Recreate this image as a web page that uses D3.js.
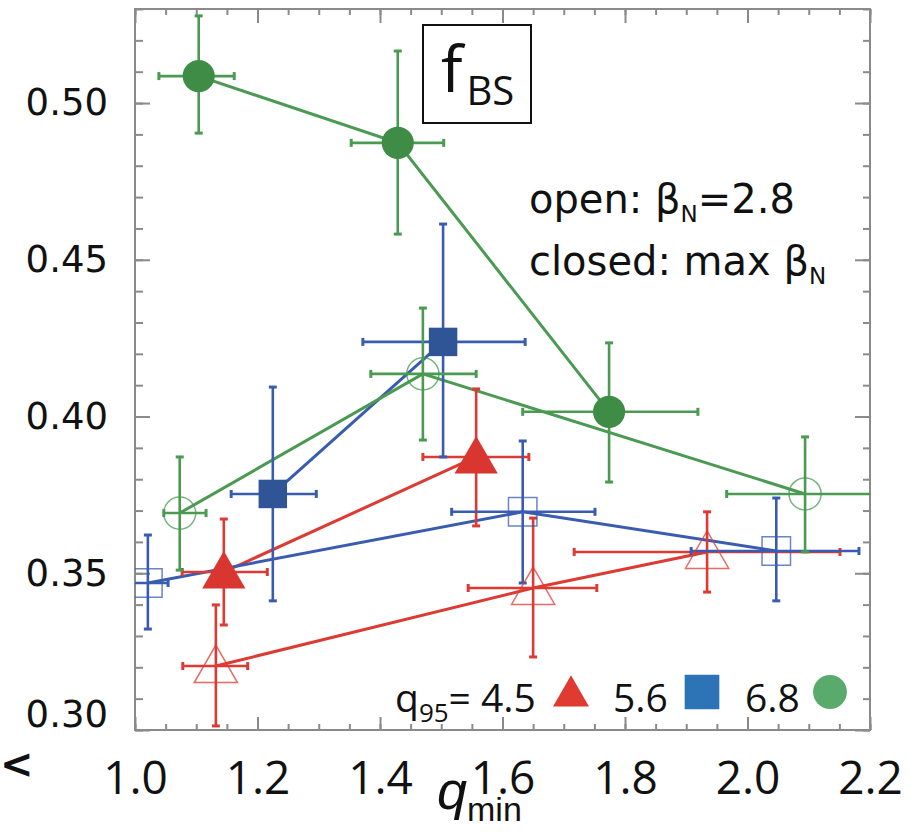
<!DOCTYPE html>
<meta charset="utf-8">
<style>
    body { margin: 0; background: #fff; }
    .frame { fill: none; stroke: #8a8a8a; stroke-width: 2px; }
    .tick line { stroke: #8a8a8a; stroke-width: 2px; }
    .domain { display: none; }
    .ylab text { font: 37px "DejaVu Sans", sans-serif; fill: #111; }
    .xlab text { font: 46px "Liberation Sans Narrow", "Open Sans", sans-serif; fill: #111; }
</style>
<script src="https://d3js.org/d3.v7.min.js"></script>
<div id="chart"></div>
<script>

    // each point: [qmin, fBS, qmin low, qmin high, fBS low, fBS high]
    var redOpen = [
        [1.132, 0.3204, 1.078, 1.184, 0.3013, 0.3399],
        [1.650, 0.3453, 1.544, 1.754, 0.3233, 0.3676],
        [1.934, 0.3568, 1.717, 2.151, 0.3440, 0.3696]
    ];
    var redClosed = [
        [1.145, 0.3504, 1.077, 1.216, 0.3335, 0.3673],
        [1.557, 0.3871, 1.470, 1.643, 0.3651, 0.4088]
    ];
    var blueOpen = [
        [1.021, 0.3469, 0.990, 1.054, 0.3322, 0.3622],
        [1.633, 0.3696, 1.517, 1.751, 0.3469, 0.3922],
        [2.047, 0.3571, 1.908, 2.182, 0.3412, 0.3740]
    ];
    var blueClosed = [
        [1.225, 0.3753, 1.157, 1.296, 0.3412, 0.4094],
        [1.503, 0.4238, 1.372, 1.637, 0.3871, 0.4614]
    ];
    var greenOpen = [
        [1.073, 0.3692, 1.047, 1.116, 0.3510, 0.3871],
        [1.470, 0.4136, 1.385, 1.557, 0.3925, 0.4346],
        [2.094, 0.3753, 1.966, 2.250, 0.3568, 0.3935]
    ];
    var greenClosed = [
        [1.104, 0.5086, 1.039, 1.162, 0.4904, 0.5278],
        [1.429, 0.4873, 1.353, 1.504, 0.4582, 0.5166],
        [1.774, 0.4015, 1.633, 1.919, 0.3791, 0.4235]
    ];

    var xTicks = [1.0, 1.2, 1.4, 1.6, 1.8, 2.0, 2.2];
    var yTicks = [0.30, 0.35, 0.40, 0.45, 0.50];
    var legendLabels = ["4.5", "5.6", "6.8"];

    var margin = {top: 9, right: 46, bottom: 102, left: 135},
        width = 916 - margin.left - margin.right,
        height = 832 - margin.top - margin.bottom;

    var svg = d3.select("#chart")
        .append("svg")
        .attr("width", 916)
        .attr("height", 832)
        .append("g")
        .attr("transform", "translate(" + margin.left + "," + margin.top + ")");

    var x = d3.scaleLinear().domain([1.0, 2.2]).range([0, width]);
    var y = d3.scaleLinear().domain([0.30, 0.53]).range([height, 0]);

    var xMinor = d3.range(1.0, 2.2001, 0.05);
    var yMinor = d3.range(0.30, 0.5301, 0.01);

    // inward ticks on all four sides
    function ticks(axis, scale, vals, size, tr) {
        svg.append("g")
            .attr("transform", tr)
            .call(axis(scale).tickValues(vals).tickSize(-size).tickFormat(""));
    }
    ticks(d3.axisBottom, x, xMinor, 6, "translate(0," + height + ")");
    ticks(d3.axisBottom, x, xTicks, 13, "translate(0," + height + ")");
    ticks(d3.axisTop, x, xMinor, 6, "translate(0,0)");
    ticks(d3.axisTop, x, xTicks, 14, "translate(0,0)");
    ticks(d3.axisLeft, y, yMinor, 8, "translate(0,0)");
    ticks(d3.axisLeft, y, yTicks, 15, "translate(0,0)");
    ticks(d3.axisRight, y, yMinor, 7, "translate(" + width + ",0)");
    ticks(d3.axisRight, y, yTicks, 15, "translate(" + width + ",0)");

    svg.append("g")
        .attr("class", "xlab")
        .attr("transform", "translate(0," + height + ")")
        .call(d3.axisBottom(x).tickValues(xTicks).tickSize(0).tickPadding(31).tickFormat(d3.format(".1f")));

    var yl = svg.append("g")
        .attr("class", "ylab")
        .call(d3.axisLeft(y).tickValues(yTicks).tickSize(0).tickPadding(27).tickFormat(d3.format(".2f")));
    yl.selectAll("text").filter(function(d) { return d === 0.30; }).attr("dy", "-0.1em");

    svg.append("rect")
        .attr("class", "frame")
        .attr("width", width)
        .attr("height", height);

    svg.append("defs").append("clipPath")
        .attr("id", "clip")
        .append("rect")
        .attr("width", width)
        .attr("height", height);

    var plot = svg.append("g").attr("clip-path", "url(#clip)");

    var line = d3.line()
        .x(function(d) { return x(d[0]); })
        .y(function(d) { return y(d[1]); });

    var series = [
        {data: redOpen, color: "#dd3a34", shape: d3.symbolTriangle, open: true},
        {data: redClosed, color: "#dd3a34", shape: d3.symbolTriangle, open: false},
        {data: blueOpen, color: "#3a5cb0", shape: d3.symbolSquare, open: true},
        {data: blueClosed, color: "#3a5cb0", shape: d3.symbolSquare, open: false},
        {data: greenOpen, color: "#4a9a52", shape: d3.symbolCircle, open: true},
        {data: greenClosed, color: "#4a9a52", shape: d3.symbolCircle, open: false}
    ];
    var fills = {"#dd3a34": "#d8362f", "#3a5cb0": "#2f5597", "#4a9a52": "#3e8c45"};
    var sizes = {};
    sizes[d3.symbolTriangle] = 460;
    sizes[d3.symbolSquare] = 1024;
    sizes[d3.symbolCircle] = 810;

    function shiftFor(shape) { return shape === d3.symbolTriangle ? 4 : 0; }

    series.forEach(function(s) {
        plot.append("path")
            .datum(s.data)
            .attr("fill", "none")
            .attr("stroke", s.color)
            .attr("stroke-width", 3)
            .attr("d", line);
    });

    series.forEach(function(s) {
        var g = plot.append("g").attr("stroke", s.color).attr("stroke-width", 2.6);
        s.data.forEach(function(d) {
            g.append("line").attr("x1", x(d[2])).attr("x2", x(d[3])).attr("y1", y(d[1])).attr("y2", y(d[1]));
            g.append("line").attr("x1", x(d[0])).attr("x2", x(d[0])).attr("y1", y(d[4])).attr("y2", y(d[5]));
            [d[2], d[3]].forEach(function(v) {
                g.append("line").attr("x1", x(v)).attr("x2", x(v))
                    .attr("y1", y(d[1]) - 4).attr("y2", y(d[1]) + 4).attr("stroke-width", 3);
            });
            [d[4], d[5]].forEach(function(v) {
                g.append("line").attr("x1", x(d[0]) - 4).attr("x2", x(d[0]) + 4)
                    .attr("y1", y(v)).attr("y2", y(v)).attr("stroke-width", 3);
            });
        });
    });

    series.forEach(function(s) {
        plot.selectAll(null)
            .data(s.data)
            .enter()
            .append("path")
            .attr("transform", function(d) {
                return "translate(" + x(d[0]) + "," + (y(d[1]) + shiftFor(s.shape)) + ")";
            })
            .attr("d", d3.symbol().type(s.shape).size(sizes[s.shape]))
            .attr("fill", s.open ? "none" : fills[s.color])
            .attr("stroke", s.open ? s.color : "none")
            .attr("stroke-opacity", 0.75)
            .attr("stroke-width", 1.5);
    });

    // f_BS label box
    svg.append("rect")
        .attr("x", 288).attr("y", 16)
        .attr("width", 108).attr("height", 98)
        .attr("fill", "#fff").attr("stroke", "#111").attr("stroke-width", 2);
    var fbs = svg.append("text")
        .attr("x", 306).attr("y", 83)
        .style("font-family", "'Liberation Sans Narrow', 'Open Sans', sans-serif")
        .style("fill", "#111");
    fbs.append("tspan").style("font-size", "64px").text("f");
    fbs.append("tspan").attr("dy", 13).attr("dx", 4).style("font-size", "40px").text("BS");

    // open / closed note
    var notes = [["open: ", "=2.8", 204], ["closed: max ", "", 266]];
    notes.forEach(function(n) {
        var t = svg.append("text")
            .attr("x", 394).attr("y", n[2])
            .style("font-family", "'DejaVu Sans', sans-serif")
            .style("font-size", "40px")
            .style("fill", "#111");
        t.append("tspan").text(n[0] + "\u03b2");
        t.append("tspan").attr("dy", 9).style("font-size", "23px").text("N");
        if (n[1]) t.append("tspan").attr("dy", -9).text(n[1]);
    });

    // q95 legend
    var lg = svg.append("text")
        .attr("x", 260).attr("y", 703)
        .style("font-family", "'Open Sans', sans-serif")
        .style("font-size", "39px")
        .style("fill", "#111");
    lg.append("tspan").text("q");
    lg.append("tspan").attr("dy", 10).style("font-size", "26px").text("95");
    lg.append("tspan").attr("dy", -10).text("= " + legendLabels[0]);

    var legendItems = [
        {label: legendLabels[1], tx: 478, mx: 436, shape: d3.symbolTriangle, color: "#e03b33"},
        {label: legendLabels[2], tx: 610, mx: 567, shape: d3.symbolSquare, color: "#2c74b5"},
        {label: "", tx: 0, mx: 695, shape: d3.symbolCircle, color: "#5aab6b"}
    ];
    legendItems.forEach(function(l) {
        svg.append("path")
            .attr("transform", "translate(" + l.mx + "," + (683 + shiftFor(l.shape)) + ")")
            .attr("d", d3.symbol().type(l.shape).size(l.shape === d3.symbolTriangle ? 560 : (l.shape === d3.symbolSquare ? 1200 : 900)))
            .attr("fill", l.color);
        if (l.label) {
            svg.append("text")
                .attr("x", l.tx).attr("y", 703)
                .style("font-family", "'Open Sans', sans-serif")
                .style("font-size", "39px")
                .style("fill", "#111")
                .text(l.label);
        }
    });

    // x axis title
    var xt = svg.append("text")
        .attr("x", 302).attr("y", 800)
        .style("font-family", "'Liberation Sans', sans-serif")
        .style("fill", "#111");
    xt.append("tspan").style("font-size", "54px").style("font-style", "italic").text("q");
    xt.append("tspan").attr("dy", 12).style("font-size", "34px").text("min");

    // stray glyph at the left edge
    d3.select("svg").append("text")
        .attr("x", 0).attr("y", 778)
        .style("font", "bold 40px 'DejaVu Sans', sans-serif")
        .style("fill", "#111")
        .text("<");

</script>
